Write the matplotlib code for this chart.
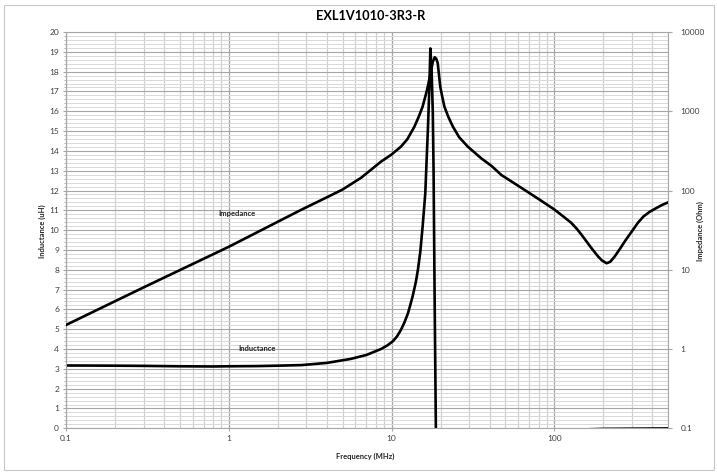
import numpy as np
import matplotlib
matplotlib.use("Agg")
import matplotlib.pyplot as plt
from matplotlib.patches import Rectangle
from matplotlib.ticker import LogLocator, MultipleLocator, FixedLocator, NullFormatter

plt.rcParams['font.family'] = ['Lato', 'DejaVu Sans']

# inductance curve (uH)
f_ind = [0.1, 0.2, 0.3, 0.5, 0.8, 1.0, 1.5, 2.0, 2.8, 4.0, 5.6, 7.0, 8.6, 9.4, 10.2,
         10.8, 11.4, 12.0, 12.6, 13.0, 13.5, 14.1, 14.5, 15.0, 15.5, 16.1, 16.4, 16.7,
         17.06, 17.3, 17.6, 17.9, 18.1, 18.4, 18.7, 18.75, 25, 50, 100, 200, 500]
ind = [3.17, 3.16, 3.15, 3.13, 3.12, 3.13, 3.14, 3.16, 3.19, 3.3, 3.5, 3.7, 4.0, 4.18,
       4.4, 4.64, 4.96, 5.35, 5.8, 6.2, 6.7, 7.4, 7.99, 8.9, 10.17, 11.86, 13.5, 15.05,
       17.2, 19.17, 18.1, 16.0, 13.0, 6.0, 0.0, -6.0, -1.5, -0.4, -0.1, -0.03, -0.005]

# impedance curve (Ohm)
f_imp = [0.1, 0.3, 1.0, 2.77, 4.0, 5.0, 6.5, 8.6, 10.0, 11.4, 12.5, 13.8, 14.7, 15.5,
         16.5, 17.5, 17.9, 18.4, 18.8, 19.2, 19.9, 20.5, 21.1, 22.3, 23.8, 26.0, 29.4,
         35.5, 41.0, 47.2, 62.7, 83.2, 100, 115, 127, 137, 147, 169, 185, 195, 209, 220,
         235, 253, 275, 298, 325, 352, 385, 416, 460, 500]
imp = [2.01, 6.0, 19.5, 56.8, 82, 103, 145, 231, 285, 357, 445, 638, 860, 1143,
       1852, 3313, 4200, 4797, 4600, 4027, 2040, 1500, 1143, 850, 638, 470, 357,
       255, 205, 157, 108, 74, 57.5, 46, 39, 33, 27.5, 18.7, 14.8, 13.2, 12.1, 12.6,
       14.8, 18.5, 24, 30.2, 39, 47, 54, 59, 66, 71]

left_ticks = list(range(0, 21))
right_ticks = [0.1, 1, 10, 100, 1000, 10000]
right_labels = ['0.1', '1', '10', '100', '1000', '10000']
x_ticks = [0.1, 1, 10, 100]
x_labels = ['0.1', '1', '10', '100']

fig = plt.figure(figsize=(7.17, 4.72), dpi=100)
fig.patches.append(Rectangle((0.006, 0.004), 0.99, 0.985, transform=fig.transFigure,
                             fill=False, edgecolor='#c8c8c8', lw=0.8))
ax = fig.add_axes([0.092, 0.0926, 0.840, 0.8396])

ax.set_xscale('log')
ax.set_xlim(0.1, 500)
ax.set_ylim(0, 20)

# grid
ax.xaxis.set_major_locator(FixedLocator(x_ticks))
ax.xaxis.set_minor_locator(LogLocator(base=10, subs=np.arange(2, 10)))
ax.xaxis.set_minor_formatter(NullFormatter())
ax.yaxis.set_major_locator(FixedLocator(left_ticks))
ax.yaxis.set_minor_locator(MultipleLocator(0.2))
ax.grid(True, which='major', axis='x', color='#a6a6a6', lw=0.9)
ax.grid(True, which='minor', axis='x', color='#d0d0d0', lw=0.9)
ax.grid(True, which='major', axis='y', color='#a6a6a6', lw=0.8)
ax.grid(True, which='minor', axis='y', color='#d9d9d9', lw=0.7)
ax.set_axisbelow(True)
for s in ax.spines.values():
    s.set_color('#a6a6a6')
    s.set_linewidth(0.8)

ax.set_xticklabels(x_labels)
ax.tick_params(axis='both', which='major', labelsize=6, color='#a6a6a6', length=2,
               labelcolor='#404040', pad=3)
ax.tick_params(axis='x', which='minor', length=0)
ax.tick_params(axis='y', which='minor', length=1.5, color='#a6a6a6')

ax.plot(f_ind, ind, color='black', lw=1.9, solid_joinstyle='round', clip_on=True)

ax2 = ax.twinx()
ax2.set_yscale('log')
ax2.set_ylim(0.1, 10000)
ax2.yaxis.set_major_locator(FixedLocator(right_ticks))
ax2.yaxis.set_minor_locator(FixedLocator([]))
ax2.set_yticklabels(right_labels)
ax2.tick_params(axis='y', labelsize=6, color='#a6a6a6', length=3, labelcolor='#404040', pad=6)
for s in ax2.spines.values():
    s.set_visible(False)
ax2.plot(f_imp, imp, color='black', lw=1.9, solid_joinstyle='round')

ax.text(1.115, 10.86, 'Impedance', fontsize=5.5, fontweight='bold', ha='center', va='center', color='#262626')
ax.text(1.50, 4.05, 'Inductance', fontsize=5.5, fontweight='bold', ha='center', va='center', color='#262626')

fig.text(0.517, 0.966, 'EXL1V1010-3R3-R', fontsize=9.2, fontweight='bold', ha='center', va='center')
fig.text(0.510, 0.034, 'Frequency (MHz)', fontsize=5.5, fontweight='bold', ha='center', va='center', color='#262626')
fig.text(0.059, 0.51, 'Inductance (uH)', fontsize=5.5, fontweight='bold', ha='center', va='center',
         rotation=90, color='#262626')
fig.text(0.977, 0.51, 'Impedance (Ohm)', fontsize=5.5, fontweight='bold', ha='center', va='center',
         rotation=90, color='#262626')

fig.savefig('out.png', dpi=100)
